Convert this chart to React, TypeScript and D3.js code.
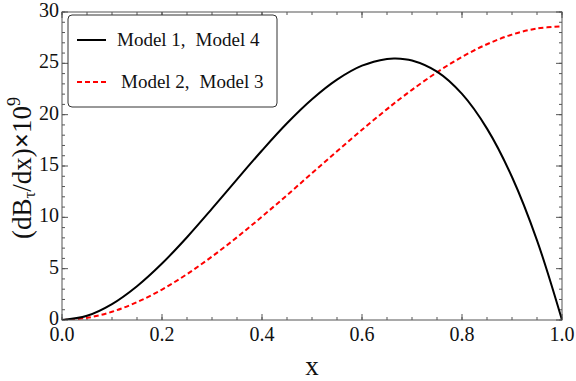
import React from "react";
import * as d3 from "d3";

// values at x = 0, 0.05, ..., 1.0 (plus the peak)
const xs = [0, 0.05, 0.1, 0.15, 0.2, 0.25, 0.3, 0.35, 0.4, 0.45, 0.5, 0.55, 0.6, 0.65, 0.667, 0.7, 0.75, 0.8, 0.85, 0.9, 0.95, 1.0];
const model14 = [0, 0.41, 1.55, 3.29, 5.5, 8.06, 10.84, 13.7, 16.51, 19.16, 21.5, 23.41, 24.77, 25.43, 25.48, 25.28, 24.19, 22.02, 18.64, 13.93, 7.76, 0];
const model23 = [0, 0.21, 0.8, 1.74, 2.97, 4.47, 6.18, 8.06, 10.07, 12.16, 14.3, 16.44, 18.53, 20.54, 21.2, 22.42, 24.13, 25.63, 26.86, 27.8, 28.39, 28.6];

const xTicks = [0, 0.2, 0.4, 0.6, 0.8, 1.0];
const yTicks = [0, 5, 10, 15, 20, 25, 30];
const legendLabels = [
  ["Model 1,", "Model 4"],
  ["Model 2,", "Model 3"],
];

const W = 576;
const H = 381;
const m = { left: 62, right: 14, top: 12, bottom: 61 };
const font = "'Liberation Serif', 'Times New Roman', serif";
const ink = "#111";

export default function App() {
  const x = d3.scaleLinear().domain([0, 1]).range([m.left, W - m.right]);
  const y = d3.scaleLinear().domain([0, 30]).range([H - m.bottom, m.top]);

  const line = d3
    .line<number>()
    .x((_, i) => x(xs[i]))
    .y((d) => y(d))
    .curve(d3.curveCatmullRom);

  const xMinor = d3.range(0, 1.0001, 0.05);
  const yMinor = d3.range(0, 30.001, 1);
  const frame = "#555";

  return (
    <svg width={W} height={H} style={{ position: "absolute", left: 0, top: 0 }}>
      <rect width={W} height={H} fill="#fff" />
      <defs>
        <clipPath id="plot">
          <rect x={m.left} y={m.top} width={W - m.left - m.right} height={H - m.top - m.bottom} />
        </clipPath>
      </defs>

      {/* ticks on all four sides, pointing inward */}
      <g stroke={frame} strokeWidth={1}>
        {xMinor.map((t, i) => (
          <g key={"xm" + i}>
            <line x1={x(t)} x2={x(t)} y1={y(0)} y2={y(0) - 3} />
            <line x1={x(t)} x2={x(t)} y1={y(30)} y2={y(30) + 3} />
          </g>
        ))}
        {xTicks.map((t, i) => (
          <g key={"xM" + i}>
            <line x1={x(t)} x2={x(t)} y1={y(0)} y2={y(0) - 6} />
            <line x1={x(t)} x2={x(t)} y1={y(30)} y2={y(30) + 6} />
          </g>
        ))}
        {yMinor.map((t, i) => (
          <g key={"ym" + i}>
            <line x1={x(0)} x2={x(0) + 3} y1={y(t)} y2={y(t)} />
            <line x1={x(1)} x2={x(1) - 3} y1={y(t)} y2={y(t)} />
          </g>
        ))}
        {yTicks.map((t, i) => (
          <g key={"yM" + i}>
            <line x1={x(0)} x2={x(0) + 6} y1={y(t)} y2={y(t)} />
            <line x1={x(1)} x2={x(1) - 6} y1={y(t)} y2={y(t)} />
          </g>
        ))}
      </g>

      <g clipPath="url(#plot)" fill="none">
        <path d={line(model23) ?? ""} stroke="#ff0000" strokeWidth={2} strokeDasharray="5,3" />
        <path d={line(model14) ?? ""} stroke="#000" strokeWidth={2} />
      </g>

      <rect x={m.left} y={m.top} width={x(1) - x(0)} height={y(0) - y(30)} fill="none" stroke={frame} strokeWidth={1} />

      <g fontFamily={font} fontSize={20} fill={ink}>
        {xTicks.map((t, i) => (
          <text key={"xl" + i} x={x(t)} y={y(0) + 21} textAnchor="middle">
            {t.toFixed(1)}
          </text>
        ))}
        {yTicks.map((t, i) => (
          <text key={"yl" + i} x={x(0) - 3} y={y(t) + 5} textAnchor="end">
            {t}
          </text>
        ))}
      </g>

      <text x={(x(0) + x(1)) / 2} y={H - 6} textAnchor="middle" fontFamily={font} fontSize={27} fill={ink}>
        x
      </text>

      <text
        transform={`translate(31,${(y(0) + y(30)) / 2 + 2}) rotate(-90)`}
        textAnchor="middle"
        fontFamily={font}
        fontSize={27}
        fill={ink}
      >
        (dB
        <tspan fontSize={17} dy={4}>τ</tspan>
        <tspan dy={-4}>/dx)</tspan>
        <tspan fontWeight="bold">×</tspan>
        <tspan>10</tspan>
        <tspan fontSize={18} dy={-11}>9</tspan>
      </text>

      <g>
        <rect x={68} y={15} width={209} height={92} rx={4} fill="#fff" stroke="#333" strokeWidth={1} />
        <line x1={77} x2={106} y1={40} y2={40} stroke="#000" strokeWidth={2} />
        <line x1={77} x2={106} y1={82} y2={82} stroke="#ff0000" strokeWidth={2} strokeDasharray="5,3" />
        {legendLabels.map((lab, i) => (
          <text key={"lg" + i} x={i === 0 ? 117 : 121} y={46 + i * 42} fontFamily={font} fontSize={19} fill={ink}>
            {lab[0]}
            <tspan dx={10}>{lab[1]}</tspan>
          </text>
        ))}
      </g>
    </svg>
  );
}
